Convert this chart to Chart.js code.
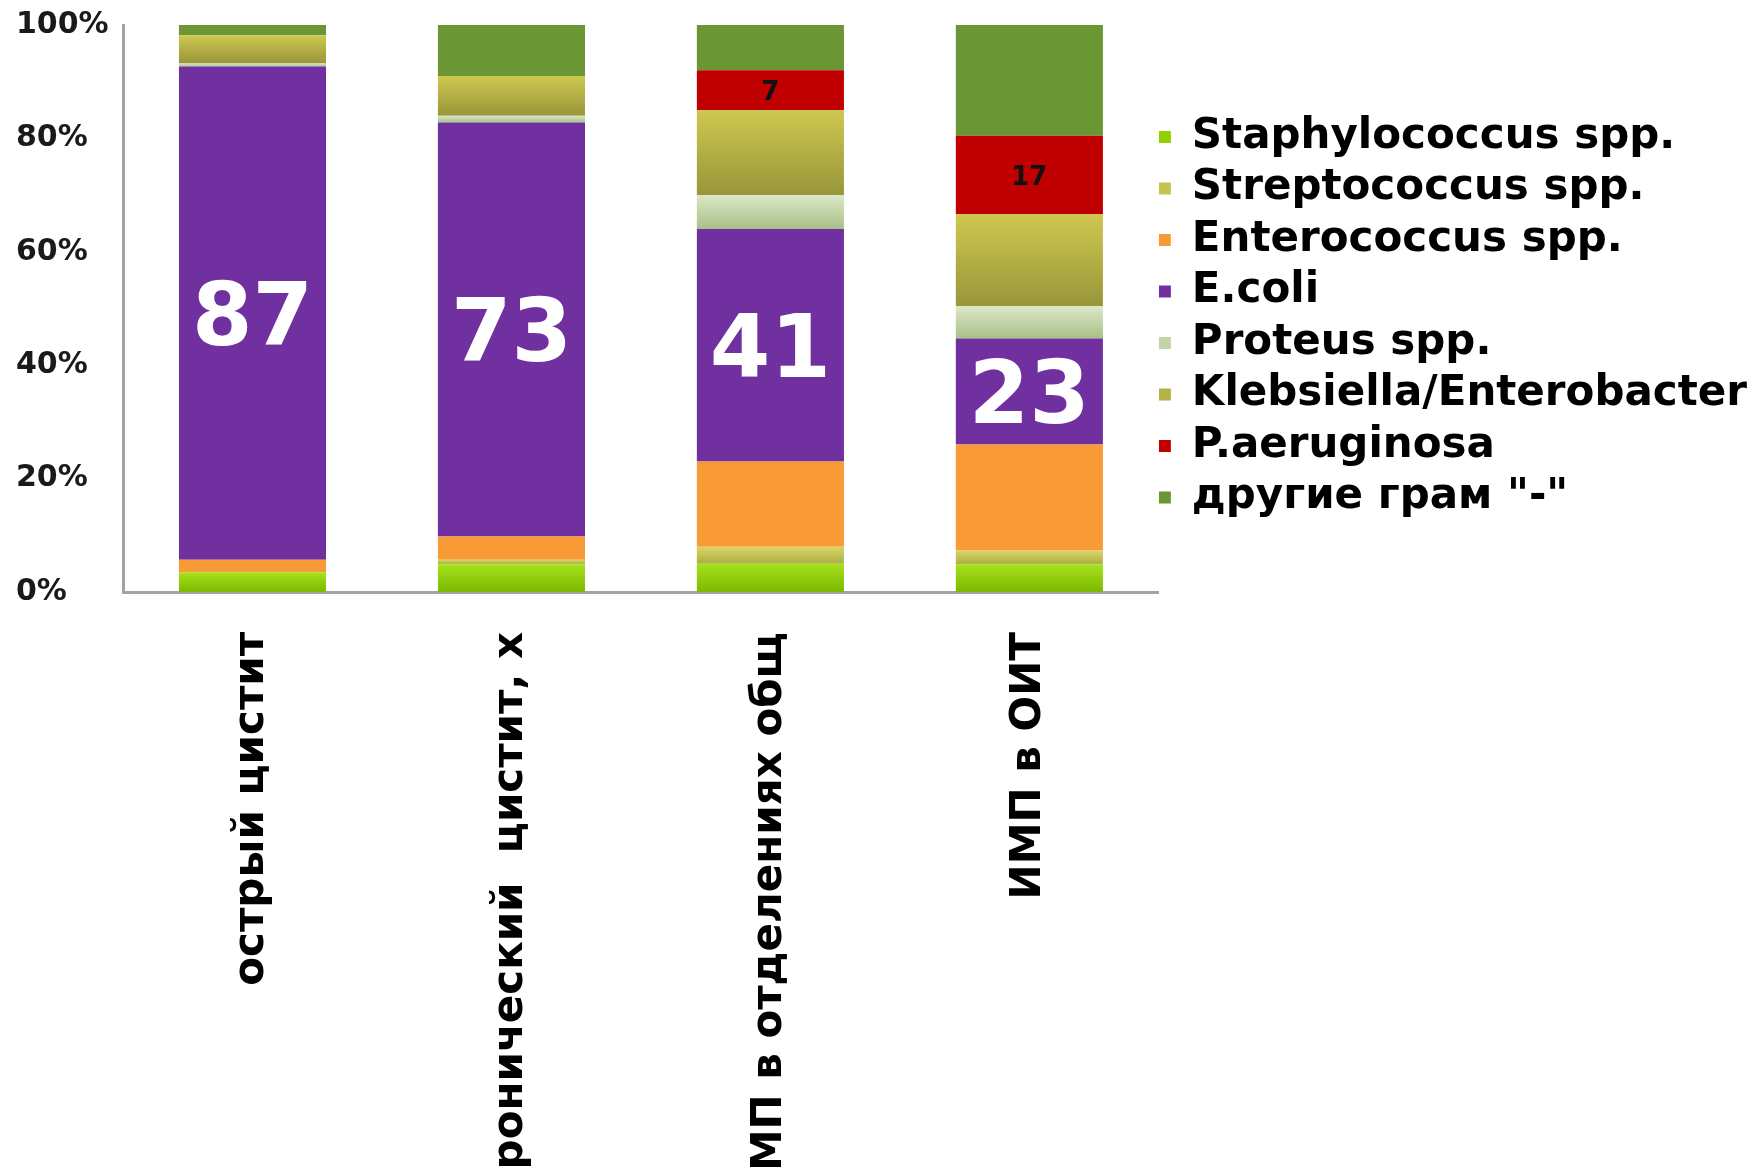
<!DOCTYPE html>
<html>
<head>
<meta charset="utf-8">
<script src="https://cdn.jsdelivr.net/npm/chart.js@4/dist/chart.umd.min.js"></script>
<style>
  html, body { margin: 0; padding: 0; background: #ffffff; }
  #wrap { width: 1760px; height: 1167px; }
</style>
</head>
<body>
<div id="wrap"><canvas id="c" width="1760" height="1167"></canvas></div>
<script>
// ---- data ----
const categories = ['острый цистит', 'хронический  цистит, х', 'ИМП в отделениях общ', 'ИМП в ОИТ'];
const seriesNames = ['Staphylococcus spp.', 'Streptococcus spp.', 'Enterococcus spp.', 'E.coli',
                     'Proteus spp.', 'Klebsiella/Enterobacter', 'P.aeruginosa', 'другие грам "-"'];
const staph    = [3.5, 4.9, 5, 6];
const strep    = [0, 0.8, 3, 3];
const entero   = [2.2, 4.1, 15, 23];
const ecoli    = [87, 73, 41, 23];
const proteus  = [0.5, 1.2, 6, 7];
const klebs    = [5, 7, 15, 20];
const paer     = [0, 0, 7, 17];
const otherNeg = [1.8, 9, 8, 24];
const yTickValues = [0, 20, 40, 60, 80, 100];

// ---- styles ----
const seriesColors = [
  { flat: '#8fd000', grad: ['#a6e21c', '#7cb800'] },
  { flat: '#c4c450', grad: ['#dcd468', '#aab040'] },
  { flat: '#f89a35', grad: null },
  { flat: '#7030a0', grad: null },
  { flat: '#c3d5a4', grad: ['#dbe8c6', '#a8bf88'] },
  { flat: '#b5b246', grad: ['#cec84f', '#98963a'] },
  { flat: '#c00000', grad: null },
  { flat: '#6a9634', grad: null }
];

const raw = [staph, strep, entero, ecoli, proteus, klebs, paer, otherNeg];
const totals = categories.map((_, i) => raw.reduce((s, arr) => s + arr[i], 0));
const pct = raw.map(arr => arr.map((v, i) => v / totals[i] * 100));

function makeFill(si) {
  return (ctx) => {
    const c = seriesColors[si];
    if (ctx.type !== 'data' || !c.grad) return c.flat;
    const chart = ctx.chart;
    const ys = chart.scales && chart.scales.y;
    if (!ys || !chart.chartArea) return c.flat;
    const i = ctx.dataIndex;
    let start = 0;
    for (let k = 0; k < si; k++) start += pct[k][i];
    const end = start + pct[si][i];
    const top = ys.getPixelForValue(end);
    const bot = ys.getPixelForValue(start);
    if (!(bot > top)) return c.flat;
    const g = chart.ctx.createLinearGradient(0, top, 0, bot);
    g.addColorStop(0, c.grad[0]);
    g.addColorStop(1, c.grad[1]);
    return g;
  };
}

const datasets = seriesNames.map((name, si) => ({
  label: name,
  data: pct[si],
  backgroundColor: makeFill(si),
  borderWidth: 0,
  barPercentage: 0.568,
  categoryPercentage: 1.0
}));

// value labels: E.coli (big white) and P.aeruginosa (small black)
const labelSpecs = [
  { series: 3, font: 'bold 87px "DejaVu Sans"', color: '#ffffff', dy: 9 },
  { series: 6, font: 'bold 26px "DejaVu Sans"', color: '#111111', dy: 3 }
];
const valueLabels = {
  id: 'valueLabels',
  afterDatasetsDraw(chart) {
    const ctx = chart.ctx;
    ctx.save();
    ctx.textAlign = 'center';
    ctx.textBaseline = 'middle';
    labelSpecs.forEach(spec => {
      const meta = chart.getDatasetMeta(spec.series);
      meta.data.forEach((bar, i) => {
        const v = raw[spec.series][i];
        if (!v) return;
        const p = bar.getProps(['x', 'y', 'base'], true);
        ctx.font = spec.font;
        ctx.fillStyle = spec.color;
        ctx.fillText(String(v), p.x, (p.y + p.base) / 2 + spec.dy);
      });
    });
    ctx.restore();
  }
};

Chart.defaults.font.family = '"DejaVu Sans", Verdana, sans-serif';

new Chart(document.getElementById('c'), {
  type: 'bar',
  data: { labels: categories, datasets },
  plugins: [valueLabels],
  options: {
    responsive: false,
    animation: false,
    events: [],
    layout: { padding: { left: 16, top: 25, right: 3, bottom: 0 } },
    plugins: {
      tooltip: { enabled: false },
      legend: {
        position: 'right',
        align: 'start',
        fullSize: false,
        maxWidth: 700,
        title: { display: true, text: ' ', font: { size: 10, lineHeight: 1 }, padding: { top: 81, bottom: 0 } },
        labels: {
          boxWidth: 12,
          boxHeight: 12,
          padding: 0,
          color: '#000000',
          font: { size: 42, weight: 'bold', lineHeight: 1.226 },
          generateLabels(chart) {
            const items = Chart.defaults.plugins.legend.labels.generateLabels(chart);
            return items.map((it, k) => Object.assign(it, {
              text: [it.text],
              fillStyle: seriesColors[k].flat,
              strokeStyle: seriesColors[k].flat,
              lineWidth: 0
            }));
          }
        }
      }
    },
    scales: {
      x: {
        stacked: true,
        grid: { display: false, drawTicks: false },
        border: { display: true, color: '#a3a3a3', width: 3 },
        ticks: {
          autoSkip: false,
          minRotation: 90,
          maxRotation: 90,
          padding: 40,
          color: '#000000',
          font: { size: 42, weight: 'bold' }
        },
        afterFit(scale) { scale.height = 575; }
      },
      y: {
        stacked: true,
        min: 0,
        max: 100,
        grid: { display: false, drawTicks: false },
        border: { display: true, color: '#a3a3a3', width: 3 },
        afterBuildTicks(scale) { scale.ticks = yTickValues.map(v => ({ value: v })); },
        ticks: {
          crossAlign: 'far',
          color: '#1a1a1a',
          font: { size: 30, weight: 'bold' },
          callback: v => v + '%'
        },
        afterFit(scale) { scale.width = 107; }
      }
    }
  }
});
</script>
</body>
</html>
